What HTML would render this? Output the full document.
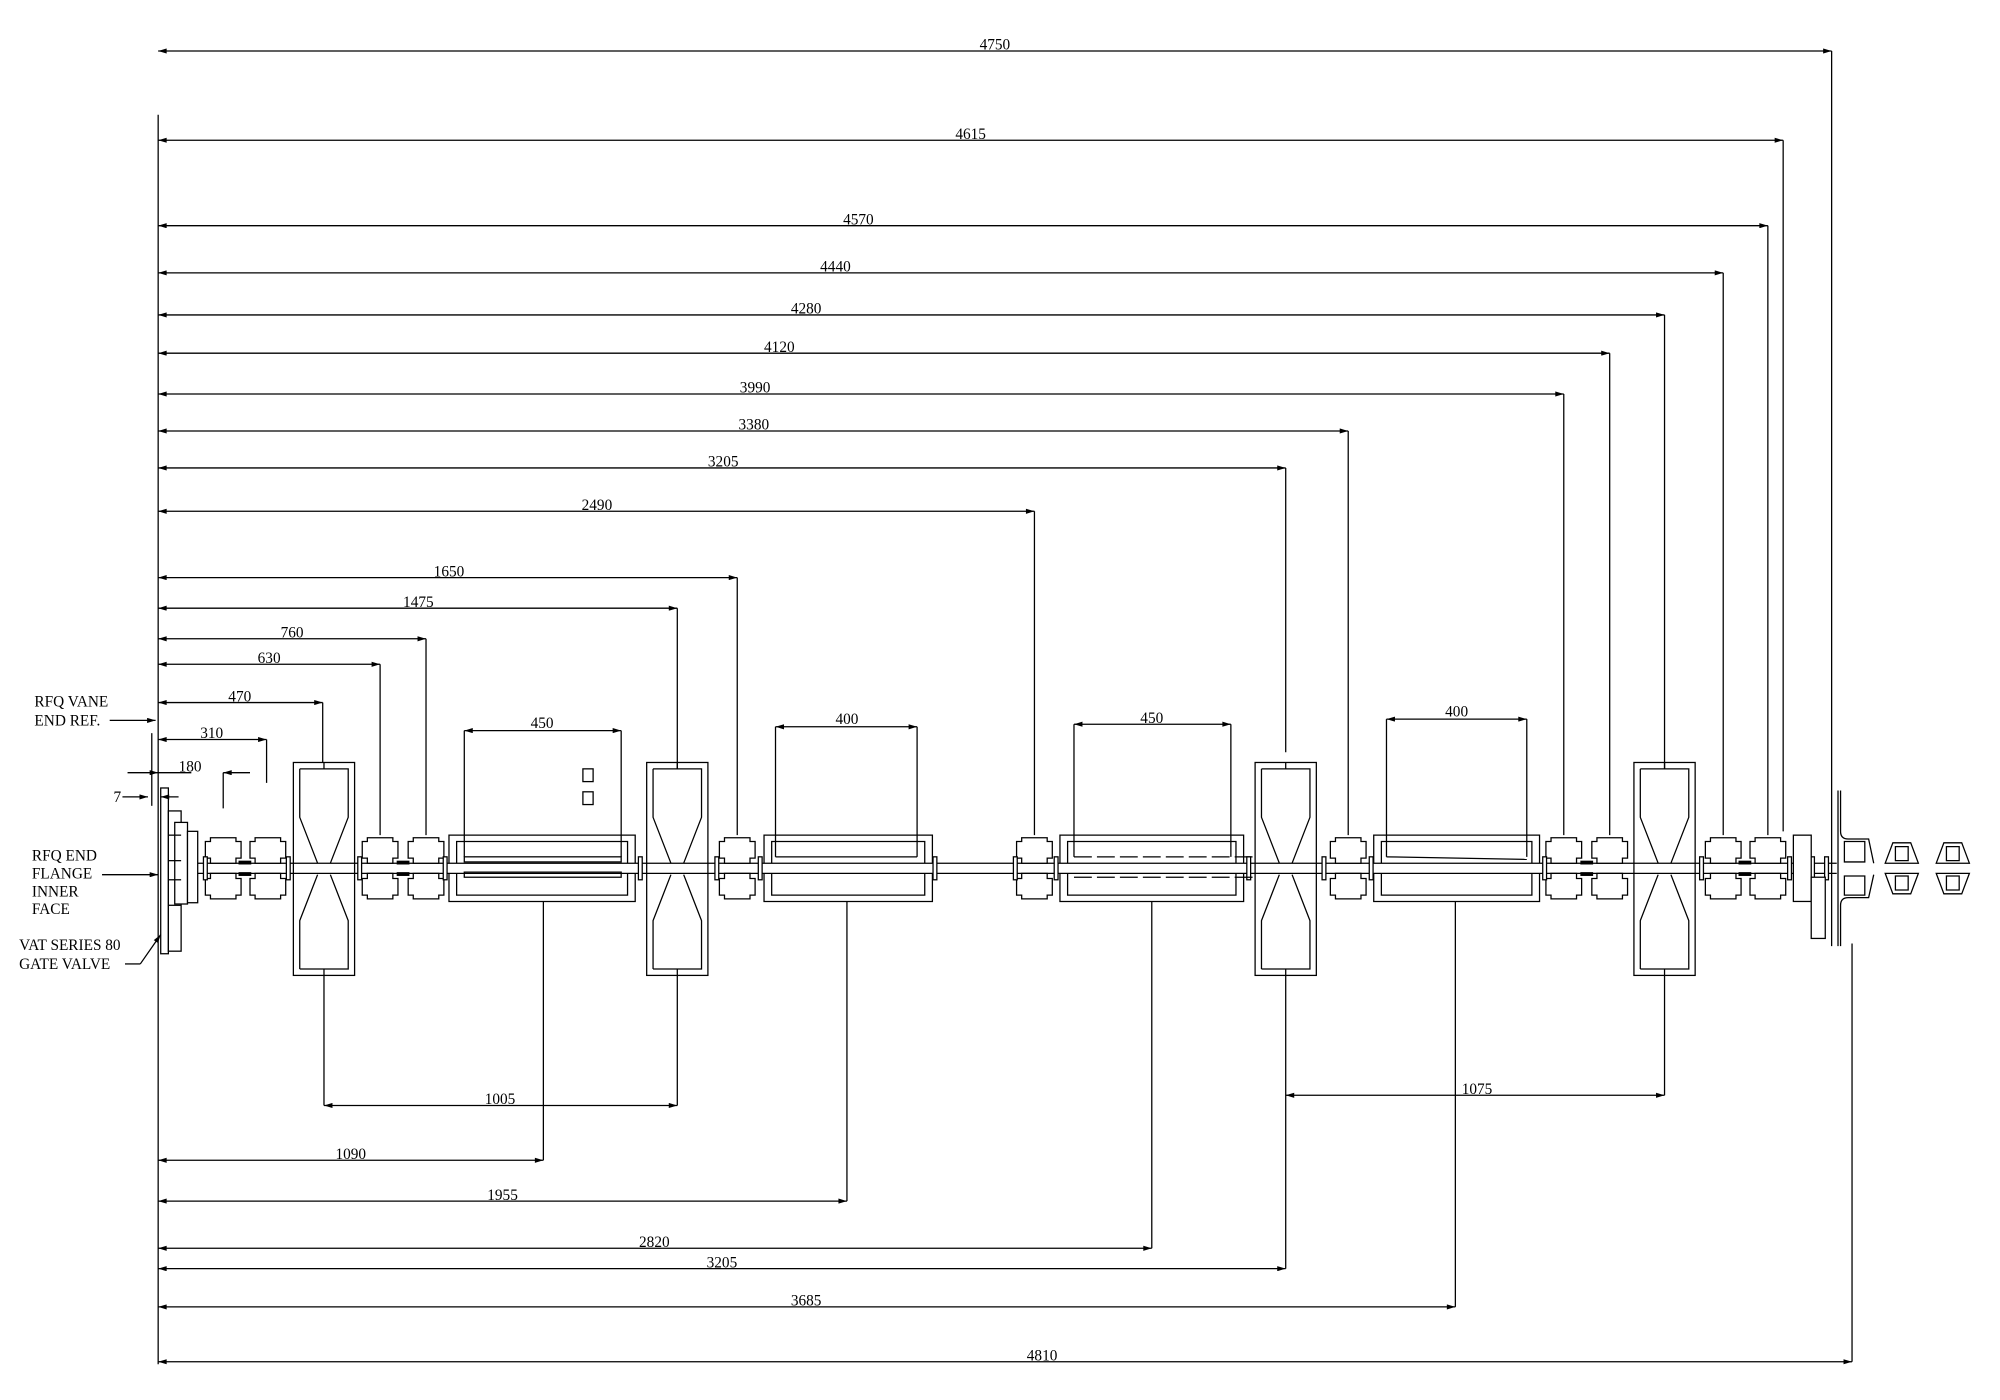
<!DOCTYPE html>
<html><head><meta charset="utf-8"><style>
html,body{margin:0;padding:0;background:#fff;}
svg{display:block;}
text{font-family:"Liberation Serif",serif;font-size:12px;fill:#000;}
</style></head><body>
<svg width="2000" height="1400" viewBox="0 0 1568 1098" preserveAspectRatio="none" xmlns="http://www.w3.org/2000/svg">
<defs>
<marker id="a" viewBox="0 0 10 6" refX="10" refY="3" markerWidth="9" markerHeight="4" orient="auto-start-reverse" markerUnits="userSpaceOnUse"><path d="M0,0L10,3L0,6z" fill="#000"/></marker>
<g id="q">
<path d="M-10,-24H10V-21H14V-8H10V-4H-10V-8H-14V-21H-10Z" fill="#fff" stroke="#000" stroke-width="1"/>
<path d="M-10,24H10V21H14V8H10V4H-10V8H-14V21H-10Z" fill="#fff" stroke="#000" stroke-width="1"/>
</g>
<g id="x" fill="none" stroke="#000" stroke-width="1">
<rect x="-24" y="-83" width="48" height="167"/>
<path d="M-19,-78H19V-40L5,-4M-5,-4L-19,-40V-78M0,-83V-78"/>
<path d="M-19,79H19V41L5,5M-5,5L-19,41V79M0,84V79"/>
</g>
<g id="f"><rect x="-1.5" y="-9" width="3" height="18" fill="#fff" stroke="#000" stroke-width="1"/></g>
<g id="s"><rect x="-5" y="-6" width="10" height="3" fill="#000"/><rect x="-5" y="3" width="10" height="3" fill="#000"/></g>
<g id="e" fill="none" stroke="#000" stroke-width="1">
<path d="M-7,-20H7L13,-4H-13Z"/><path d="M-5,-17H5V-6H-5Z"/>
<path d="M-13,4H13L7,20H-7Z"/><path d="M-5,6H5V17H-5Z"/>
</g>
</defs>

<g stroke="#000" stroke-width="1" fill="none">
<line x1="145" y1="677" x2="1440" y2="677"/>
<line x1="145" y1="685" x2="1440" y2="685"/>
<line x1="124" y1="90" x2="124" y2="1070"/>
<line x1="1436" y1="40" x2="1436" y2="742"/>
<line x1="1452" y1="740" x2="1452" y2="1068"/>
</g>

<g stroke="#000" stroke-width="1" fill="#fff">
<rect x="126" y="618" width="6" height="130"/>
<rect x="132" y="636" width="10" height="110"/>
<rect x="137" y="645" width="10" height="64"/>
<line x1="132" y1="655" x2="142" y2="655"/><line x1="132" y1="675" x2="142" y2="675"/><line x1="132" y1="690" x2="142" y2="690"/><line x1="132" y1="710" x2="142" y2="710"/>
<rect x="147" y="652" width="8" height="56"/>
</g>
<g transform="translate(0,681)">
<use href="#q" x="175"/><use href="#q" x="210"/><use href="#s" x="192"/>
<use href="#q" x="298"/><use href="#q" x="334"/><use href="#s" x="316"/>
<use href="#q" x="578"/><use href="#q" x="811"/><use href="#q" x="1057"/>
<use href="#q" x="1226"/><use href="#q" x="1262"/><use href="#s" x="1244"/>
<use href="#q" x="1351"/><use href="#q" x="1386"/><use href="#s" x="1368"/>
<use href="#x" x="254"/><use href="#x" x="531"/><use href="#x" x="1008"/><use href="#x" x="1305"/>
<use href="#f" x="161"/><use href="#f" x="226"/><use href="#f" x="282"/><use href="#f" x="349"/><use href="#f" x="502"/><use href="#f" x="562"/><use href="#f" x="596"/><use href="#f" x="733"/><use href="#f" x="796"/><use href="#f" x="828"/><use href="#f" x="979"/><use href="#f" x="1038"/><use href="#f" x="1075"/><use href="#f" x="1211"/><use href="#f" x="1334"/><use href="#f" x="1403"/><use href="#f" x="1421"/><use href="#f" x="1432"/>
<use href="#e" x="1491"/><use href="#e" x="1531"/>
</g>
<g stroke="#000" stroke-width="1" fill="none">
<path d="M352,677V655H498V677M352,685V707H498V685"/>
<path d="M358,677V660H492V677M358,685V702H492V685"/>
<rect x="364" y="672" width="123" height="4"/><rect x="364" y="684" width="123" height="4"/>
<rect x="457" y="603" width="8" height="10"/><rect x="457" y="621" width="8" height="10"/>
<path d="M599,677V655H731V677M599,685V707H731V685"/>
<path d="M605,677V660H725V677M605,685V702H725V685"/>
<line x1="608" y1="672" x2="719" y2="672"/>
<path d="M831,677V655H975V677M831,685V707H975V685"/>
<path d="M837,677V660H969V677M837,685V702H969V685"/>
<path d="M842,672h14m4,0h14m4,0h14m4,0h14m4,0h14m4,0h14m4,0h14m4,0h14M842,688h14m4,0h14m4,0h14m4,0h14m4,0h14m4,0h14m4,0h14m4,0h14"/>
<path d="M1077,677V655H1207V677M1077,685V707H1207V685"/>
<path d="M1083,677V660H1201V677M1083,685V702H1201V685"/>
<line x1="1087" y1="672" x2="1197" y2="674"/>
<rect x="1406" y="655" width="14" height="52" fill="#fff"/>
<rect x="1420" y="688" width="11" height="48" fill="#fff"/>
<path d="M1443,620V652Q1443,658 1449,658H1465L1469,677M1443,742V710Q1443,704 1449,704H1465L1469,686"/>
<path d="M1441,620V742"/>
<path d="M1446,660H1462V676H1446ZM1446,687H1462V702H1446Z"/>
</g>

<g stroke="#000" stroke-width="1" fill="none">
<line x1="124" y1="40" x2="1436" y2="40" marker-start="url(#a)" marker-end="url(#a)"/>
<line x1="124" y1="110" x2="1398" y2="110" marker-start="url(#a)" marker-end="url(#a)"/><line x1="1398" y1="110" x2="1398" y2="652"/>
<line x1="124" y1="177" x2="1386" y2="177" marker-start="url(#a)" marker-end="url(#a)"/><line x1="1386" y1="177" x2="1386" y2="655"/>
<line x1="124" y1="214" x2="1351" y2="214" marker-start="url(#a)" marker-end="url(#a)"/><line x1="1351" y1="214" x2="1351" y2="655"/>
<line x1="124" y1="247" x2="1305" y2="247" marker-start="url(#a)" marker-end="url(#a)"/><line x1="1305" y1="247" x2="1305" y2="603"/>
<line x1="124" y1="277" x2="1262" y2="277" marker-start="url(#a)" marker-end="url(#a)"/><line x1="1262" y1="277" x2="1262" y2="655"/>
<line x1="124" y1="309" x2="1226" y2="309" marker-start="url(#a)" marker-end="url(#a)"/><line x1="1226" y1="309" x2="1226" y2="655"/>
<line x1="124" y1="338" x2="1057" y2="338" marker-start="url(#a)" marker-end="url(#a)"/><line x1="1057" y1="338" x2="1057" y2="655"/>
<line x1="124" y1="367" x2="1008" y2="367" marker-start="url(#a)" marker-end="url(#a)"/><line x1="1008" y1="367" x2="1008" y2="590"/>
<line x1="124" y1="401" x2="811" y2="401" marker-start="url(#a)" marker-end="url(#a)"/><line x1="811" y1="401" x2="811" y2="655"/>
<line x1="124" y1="453" x2="578" y2="453" marker-start="url(#a)" marker-end="url(#a)"/><line x1="578" y1="453" x2="578" y2="655"/>
<line x1="124" y1="477" x2="531" y2="477" marker-start="url(#a)" marker-end="url(#a)"/><line x1="531" y1="477" x2="531" y2="603"/>
<line x1="124" y1="501" x2="334" y2="501" marker-start="url(#a)" marker-end="url(#a)"/><line x1="334" y1="501" x2="334" y2="655"/>
<line x1="124" y1="521" x2="298" y2="521" marker-start="url(#a)" marker-end="url(#a)"/><line x1="298" y1="521" x2="298" y2="655"/>
<line x1="124" y1="551" x2="253" y2="551" marker-start="url(#a)" marker-end="url(#a)"/><line x1="253" y1="551" x2="253" y2="598"/>
<line x1="124" y1="580" x2="209" y2="580" marker-start="url(#a)" marker-end="url(#a)"/><line x1="209" y1="580" x2="209" y2="614"/>
<line x1="100" y1="606" x2="124" y2="606" marker-end="url(#a)"/><line x1="196" y1="606" x2="175" y2="606" marker-end="url(#a)"/><line x1="175" y1="606" x2="175" y2="634"/>
<line x1="124" y1="606" x2="150" y2="606"/>
<line x1="96" y1="625" x2="116" y2="625" marker-end="url(#a)"/><line x1="140" y1="625" x2="126" y2="625" marker-end="url(#a)"/>
<line x1="119" y1="575" x2="119" y2="632"/>
<line x1="364" y1="573" x2="487" y2="573" marker-start="url(#a)" marker-end="url(#a)"/><line x1="364" y1="573" x2="364" y2="672"/><line x1="487" y1="573" x2="487" y2="672"/>
<line x1="608" y1="570" x2="719" y2="570" marker-start="url(#a)" marker-end="url(#a)"/><line x1="608" y1="570" x2="608" y2="672"/><line x1="719" y1="570" x2="719" y2="672"/>
<line x1="842" y1="568" x2="965" y2="568" marker-start="url(#a)" marker-end="url(#a)"/><line x1="842" y1="568" x2="842" y2="672"/><line x1="965" y1="568" x2="965" y2="672"/>
<line x1="1087" y1="564" x2="1197" y2="564" marker-start="url(#a)" marker-end="url(#a)"/><line x1="1087" y1="564" x2="1087" y2="672"/><line x1="1197" y1="564" x2="1197" y2="672"/>
<line x1="86" y1="565" x2="122" y2="565" marker-end="url(#a)"/>
<line x1="80" y1="686" x2="124" y2="686" marker-end="url(#a)"/>
<line x1="98" y1="756" x2="110" y2="756"/><line x1="110" y1="756" x2="126" y2="733" marker-end="url(#a)"/>
<line x1="254" y1="765" x2="254" y2="867"/><line x1="531" y1="765" x2="531" y2="867"/>
<line x1="254" y1="867" x2="531" y2="867" marker-start="url(#a)" marker-end="url(#a)"/>
<line x1="426" y1="707" x2="426" y2="910"/><line x1="124" y1="910" x2="426" y2="910" marker-start="url(#a)" marker-end="url(#a)"/>
<line x1="664" y1="707" x2="664" y2="942"/><line x1="124" y1="942" x2="664" y2="942" marker-start="url(#a)" marker-end="url(#a)"/>
<line x1="903" y1="707" x2="903" y2="979"/><line x1="124" y1="979" x2="903" y2="979" marker-start="url(#a)" marker-end="url(#a)"/>
<line x1="1008" y1="765" x2="1008" y2="995"/><line x1="124" y1="995" x2="1008" y2="995" marker-start="url(#a)" marker-end="url(#a)"/>
<line x1="1141" y1="707" x2="1141" y2="1025"/><line x1="124" y1="1025" x2="1141" y2="1025" marker-start="url(#a)" marker-end="url(#a)"/>
<line x1="124" y1="1068" x2="1452" y2="1068" marker-start="url(#a)" marker-end="url(#a)"/>
<line x1="1305" y1="765" x2="1305" y2="859"/><line x1="1008" y1="859" x2="1305" y2="859" marker-start="url(#a)" marker-end="url(#a)"/>
</g>

<g text-anchor="middle">
<text x="780" y="39">4750</text>
<text x="761" y="109">4615</text>
<text x="673" y="176">4570</text>
<text x="655" y="213">4440</text>
<text x="632" y="246">4280</text>
<text x="611" y="276">4120</text>
<text x="592" y="308">3990</text>
<text x="591" y="337">3380</text>
<text x="567" y="366">3205</text>
<text x="468" y="400">2490</text>
<text x="352" y="452">1650</text>
<text x="328" y="476">1475</text>
<text x="229" y="500">760</text>
<text x="211" y="520">630</text>
<text x="188" y="550">470</text>
<text x="166" y="579">310</text>
<text x="149" y="605">180</text>
<text x="92" y="629">7</text>
<text x="425" y="571">450</text>
<text x="664" y="568">400</text>
<text x="903" y="567">450</text>
<text x="1142" y="562">400</text>
<text x="392" y="866">1005</text>
<text x="275" y="909">1090</text>
<text x="394" y="941">1955</text>
<text x="513" y="978">2820</text>
<text x="566" y="994">3205</text>
<text x="632" y="1024">3685</text>
<text x="817" y="1067">4810</text>
<text x="1158" y="858">1075</text>
</g>
<g>
<text x="27" y="554">RFQ VANE</text>
<text x="27" y="569">END REF.</text>
<text x="25" y="675">RFQ END</text>
<text x="25" y="689">FLANGE</text>
<text x="25" y="703">INNER</text>
<text x="25" y="717">FACE</text>
<text x="15" y="745">VAT SERIES 80</text>
<text x="15" y="760">GATE VALVE</text>
</g>
</svg>
</body></html>
